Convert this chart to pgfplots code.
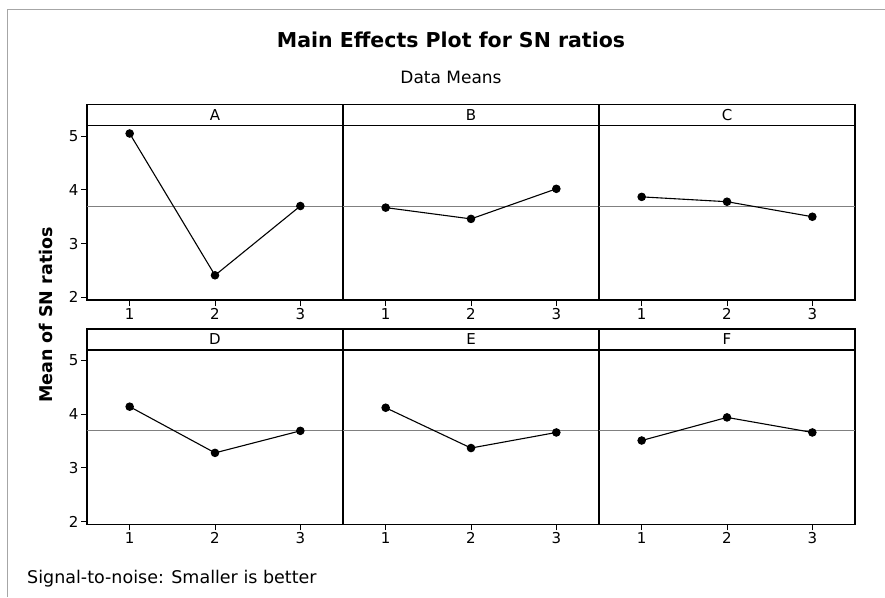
\documentclass[border=0pt]{standalone}
\usepackage{fontspec}
\setmainfont{DejaVu Sans}
\usepackage{pgfplots}
\pgfplotsset{compat=1.18}
\pgfplotsset{
  panel/.style={
    scale only axis, width=256pt, height=174.3pt,
    anchor=south west,
    xmin=0.5, xmax=3.5, ymin=1.95, ymax=5.195,
    xtick={1,2,3}, ytick={2,3,4,5},
    tick align=outside, xtick pos=left, ytick pos=left,
    major tick length=6pt,
    tick style={black, line width=0.9pt},
    axis line style={line width=1.1pt},
    ticklabel style={font=\fontsize{15}{15}\selectfont},
    xticklabel style={inner sep=2pt},
    yticklabel style={inner sep=2.5pt},
    /pgf/number format/assume math mode=true,
    clip=false,
  },
  inner/.style={panel, yticklabels={}, ytick=\empty},
  refl/.style={gray, line width=1pt},
  eff/.style={black, line width=1.1pt, mark=*, mark size=3.7pt},
}
\newcommand{\strip}[2]{%
  \draw[line width=1.1pt] (#1.north west) rectangle ([yshift=21pt]#1.north east);
  \node[font=\fontsize{15}{15}\selectfont] at ([yshift=10.5pt]#1.north) {#2};}
\begin{document}
\begin{tikzpicture}
\draw[gray!70, line width=1pt] (7pt,-597pt) -- (7pt,-9pt) -- (885pt,-9pt);

\begin{axis}[panel, name=pA, at={(87pt,-300pt)}]
\addplot[refl] coordinates {(0.5,3.69) (3.5,3.69)};
\addplot[eff] coordinates {(1,5.05) (2,2.41) (3,3.70)};
\end{axis}
\strip{pA}{A}

\begin{axis}[inner, name=pB, at={(343pt,-300pt)}]
\addplot[refl] coordinates {(0.5,3.69) (3.5,3.69)};
\addplot[eff] coordinates {(1,3.67) (2,3.46) (3,4.02)};
\end{axis}
\strip{pB}{B}

\begin{axis}[inner, name=pC, at={(599pt,-300pt)}]
\addplot[refl] coordinates {(0.5,3.69) (3.5,3.69)};
\addplot[eff] coordinates {(1,3.87) (2,3.78) (3,3.50)};
\end{axis}
\strip{pC}{C}

\begin{axis}[panel, name=pD, at={(87pt,-524.3pt)}]
\addplot[refl] coordinates {(0.5,3.69) (3.5,3.69)};
\addplot[eff] coordinates {(1,4.14) (2,3.28) (3,3.69)};
\end{axis}
\strip{pD}{D}

\begin{axis}[inner, name=pE, at={(343pt,-524.3pt)}]
\addplot[refl] coordinates {(0.5,3.69) (3.5,3.69)};
\addplot[eff] coordinates {(1,4.12) (2,3.37) (3,3.66)};
\end{axis}
\strip{pE}{E}

\begin{axis}[inner, name=pF, at={(599pt,-524.3pt)}]
\addplot[refl] coordinates {(0.5,3.69) (3.5,3.69)};
\addplot[eff] coordinates {(1,3.51) (2,3.94) (3,3.66)};
\end{axis}
\strip{pF}{F}

\node[font=\bfseries\fontsize{20.5}{20.5}\selectfont, anchor=base] at (451pt,-47pt) {Main Effects Plot for SN ratios};
\node[font=\fontsize{17}{17}\selectfont, anchor=base] at (451pt,-83pt) {Data Means};
\node[font=\bfseries\fontsize{17.5}{17.5}\selectfont, rotate=90] at (46pt,-315pt) {Mean of SN ratios};
\node[font=\fontsize{17.5}{17.5}\selectfont, anchor=base west, inner sep=0pt] at (27pt,-583pt) {Signal-to-noise: Smaller is better};

\pgfresetboundingbox
\useasboundingbox (0,0) rectangle (885pt,-597pt);
\end{tikzpicture}
\end{document}
